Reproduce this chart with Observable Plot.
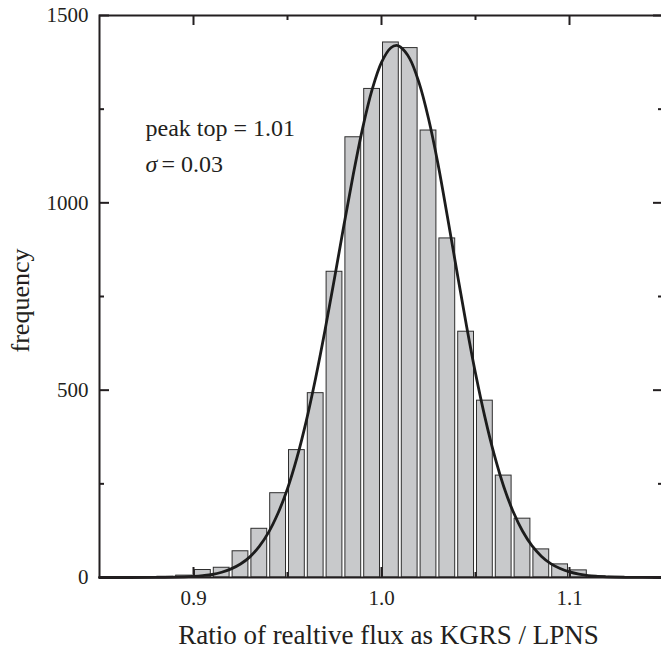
<!DOCTYPE html>
<html><head><meta charset="utf-8">
<script src="https://cdn.jsdelivr.net/npm/d3@7"></script>
<script src="https://cdn.jsdelivr.net/npm/@observablehq/plot@0.6"></script>
<style>body{margin:0;background:#fff}</style>
</head><body><div id="chart"></div>
<script>
// histogram bins (left edges) and frequencies
const binStarts = [0.88,0.89,0.90,0.91,0.92,0.93,0.94,0.95,0.96,0.97,0.98,0.99,1.00,1.01,1.02,1.03,1.04,1.05,1.06,1.07,1.08,1.09,1.10,1.11,1.12];
const counts    = [2,5,20,26,70,130,225,340,492,816,1175,1304,1428,1413,1193,905,656,472,272,157,75,35,19,3,2];
const binWidth = 0.01;
// fitted curve, points
const fitX = [0.850,0.880,0.890,0.900,0.905,0.910,0.915,0.920,0.925,0.930,0.935,0.940,0.945,0.950,0.955,0.960,0.965,0.970,0.975,0.980,0.985,0.990,0.995,1.000,1.005,1.008,1.010,1.015,1.020,1.025,1.030,1.035,1.040,1.045,1.050,1.055,1.060,1.065,1.070,1.075,1.080,1.085,1.090,1.095,1.100,1.105,1.110,1.115,1.120,1.130,1.150];
const fitY = [0,0.2,0.8,3,5,8,14,23,36,55,83,121,172,237,319,418,533,661,799,940,1076,1200,1302,1375,1414,1420,1416,1385,1320,1225,1105,965,820,678,545,428,327,243,176,124,85,57,37,24,15,9,5,3,1.6,0.5,0];
// ticks
const xMajorTicks = [0.9,1.0,1.1];
const xMinorTicks = [0.95,1.05];
const xTickLabels = ["0.9","1.0","1.1"];
const yMajorTicks = [0,500,1000,1500];
const yMinorTicks = [250,750,1250];
const yTickLabels = ["0","500","1000","1500"];
const xTitle = "Ratio of realtive flux as KGRS / LPNS";
const yTitle = "frequency";
const note1 = "peak top = 1.01";
const noteSigma = "σ";
const note2 = "= 0.03";

const W = 661, H = 656, mT = 15, mB = 79, mL = 99, mR = -2;
const innerH = H - mT - mB;
const innerW = W - mL - mR;
const ink = "#231f20";
const font = "'Liberation Serif','Times New Roman',serif";

const bars = binStarts.map((b, i) => ({x1: b, x2: b + binWidth, y: counts[i]}));
const fit = fitX.map((x, i) => ({x, y: fitY[i]}));

const plot = Plot.plot({
  width: W, height: H,
  marginTop: mT, marginBottom: mB, marginLeft: mL, marginRight: mR,
  x: {domain: [0.85, 1.15]},
  y: {domain: [0, 1500]},
  style: {fontFamily: font, color: ink, background: "#fff", overflow: "visible"},
  marks: [
    Plot.rect(bars, {x1: "x1", x2: "x2", y1: 0, y2: "y", fill: "#c8c9cb", stroke: "#2e2e2e", strokeWidth: 1, insetLeft: 1.5, insetRight: 1.5}),
    Plot.line(fit, {x: "x", y: "y", stroke: "#1c1c1c", strokeWidth: 2.8, curve: "catmull-rom"}),
    // inward ticks
    Plot.tickX(xMajorTicks, {x: d => d, stroke: ink, strokeWidth: 2, insetTop: innerH - 10}),
    Plot.tickX(xMajorTicks, {x: d => d, stroke: ink, strokeWidth: 2, insetBottom: innerH - 10}),
    Plot.tickX(xMinorTicks, {x: d => d, stroke: ink, strokeWidth: 2, insetTop: innerH - 5}),
    Plot.tickX(xMinorTicks, {x: d => d, stroke: ink, strokeWidth: 2, insetBottom: innerH - 5}),
    Plot.tickY(yMajorTicks, {y: d => d, stroke: ink, strokeWidth: 2, insetRight: innerW - 10}),
    Plot.tickY(yMajorTicks, {y: d => d, stroke: ink, strokeWidth: 2, insetLeft: innerW - 10}),
    Plot.tickY(yMinorTicks, {y: d => d, stroke: ink, strokeWidth: 2, insetRight: innerW - 5}),
    Plot.tickY(yMinorTicks, {y: d => d, stroke: ink, strokeWidth: 2, insetLeft: innerW - 5}),
    Plot.frame({stroke: ink, strokeWidth: 2}),
    Plot.axisX({ticks: xMajorTicks, tickSize: 0, tickPadding: 13, fontSize: 21, label: null,
      tickFormat: d => xTickLabels[xMajorTicks.indexOf(d)]}),
    Plot.axisY({ticks: yMajorTicks, tickSize: 0, tickPadding: 11, fontSize: 21, label: null,
      tickFormat: d => yTickLabels[yMajorTicks.indexOf(d)]}),
    Plot.text([xTitle], {text: d => d, frameAnchor: "bottom", textAnchor: "middle", dx: 7, dy: 66, fontSize: 27, fill: ink}),
    Plot.text([yTitle], {text: d => d, frameAnchor: "left", textAnchor: "middle", rotate: -90, dx: -79, dy: 4, fontSize: 26, fill: ink}),
    Plot.text([note1], {text: d => d, frameAnchor: "top-left", textAnchor: "start", dx: 46, dy: 103, fontSize: 24, fill: ink}),
    Plot.text([noteSigma], {text: d => d, frameAnchor: "top-left", textAnchor: "start", dx: 46, dy: 139, fontSize: 24, fontStyle: "italic", fill: ink}),
    Plot.text([note2], {text: d => d, frameAnchor: "top-left", textAnchor: "start", dx: 62, dy: 139, fontSize: 24, fill: ink})
  ]
});
document.getElementById("chart").appendChild(plot);
</script>
</body></html>
